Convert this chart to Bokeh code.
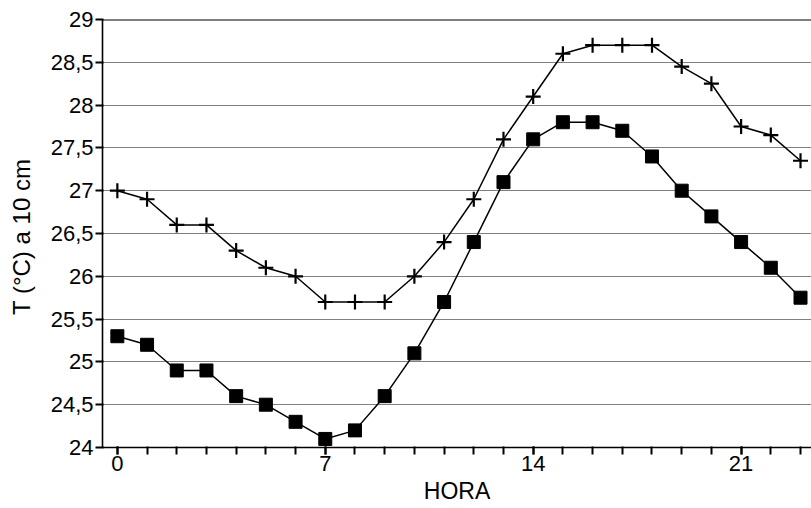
from bokeh.plotting import figure
from bokeh.models import FixedTicker, CustomJSTickFormatter, Range1d, Span
from bokeh.embed import file_html
from bokeh.resources import INLINE

hours = list(range(24))
temp_plus = [27.0, 26.9, 26.6, 26.6, 26.3, 26.1, 26.0, 25.7, 25.7, 25.7, 26.0, 26.4,
             26.9, 27.6, 28.1, 28.6, 28.7, 28.7, 28.7, 28.45, 28.25, 27.75, 27.65, 27.35]
temp_square = [25.3, 25.2, 24.9, 24.9, 24.6, 24.5, 24.3, 24.1, 24.2, 24.6, 25.1, 25.7,
               26.4, 27.1, 27.6, 27.8, 27.8, 27.7, 27.4, 27.0, 26.7, 26.4, 26.1, 25.75]
x_major_ticks = [0, 7, 14, 21]
y_ticks = [24, 24.5, 25, 25.5, 26, 26.5, 27, 27.5, 28, 28.5, 29]
x_label = "HORA"
y_label = "T (°C)  a 10 cm"

FONT = "Liberation Sans"

p = figure(width=811, height=508, output_backend="svg", toolbar_location=None,
           x_range=Range1d(-0.5, 23.37), y_range=Range1d(24, 29),
           min_border_left=102, min_border_right=0, min_border_top=19, min_border_bottom=61,
           background_fill_color="white", border_fill_color="white")
p.outline_line_color = None

# axes
for ax in (p.xaxis[0], p.yaxis[0]):
    ax.axis_line_color = "black"
    ax.axis_line_width = 1.6
    ax.major_tick_line_color = "black"
    ax.major_tick_line_width = 2
    ax.major_tick_in = 1
    ax.major_tick_out = 7
    ax.major_label_text_font = FONT
    ax.major_label_text_font_size = "22px"
    ax.major_label_text_color = "black"
    ax.axis_label_text_font = FONT
    ax.axis_label_text_font_style = "normal"
    ax.axis_label_text_color = "black"

p.xaxis.ticker = FixedTicker(ticks=x_major_ticks, minor_ticks=hours)
p.xaxis.minor_tick_line_color = "black"
p.xaxis.minor_tick_line_width = 2
p.xaxis.minor_tick_in = 1
p.xaxis.minor_tick_out = 7
p.xaxis.major_label_standoff = 1
p.xaxis.axis_label = x_label
p.xaxis.axis_label_text_font_size = "23px"
p.xaxis.axis_label_standoff = 4

p.yaxis.ticker = FixedTicker(ticks=y_ticks)
p.yaxis.minor_tick_line_color = None
p.yaxis.major_label_standoff = 2
p.yaxis.formatter = CustomJSTickFormatter(code="return tick.toString().replace('.', ',');")
p.yaxis.axis_label = y_label
p.yaxis.axis_label_text_font_size = "24px"
p.yaxis.axis_label_standoff = 13

# grid
p.xgrid.grid_line_color = None
p.ygrid.ticker = FixedTicker(ticks=y_ticks)
p.ygrid.grid_line_color = "black"
p.ygrid.grid_line_dash = "1 1"
p.ygrid.grid_line_width = 1.2
p.ygrid.grid_line_alpha = 1.0

top = Span(location=29, dimension="width", line_color="black", line_width=2)
p.add_layout(top)

# series
p.line(hours, temp_plus, line_color="black", line_width=1.5)
p.scatter(hours, temp_plus, marker="cross", size=15, line_color="black", line_width=2.2)
p.line(hours, temp_square, line_color="black", line_width=1.5)
p.scatter(hours, temp_square, marker="square", size=13, fill_color="black", line_color="black")

open("out.html", "w").write(file_html(p, INLINE))
